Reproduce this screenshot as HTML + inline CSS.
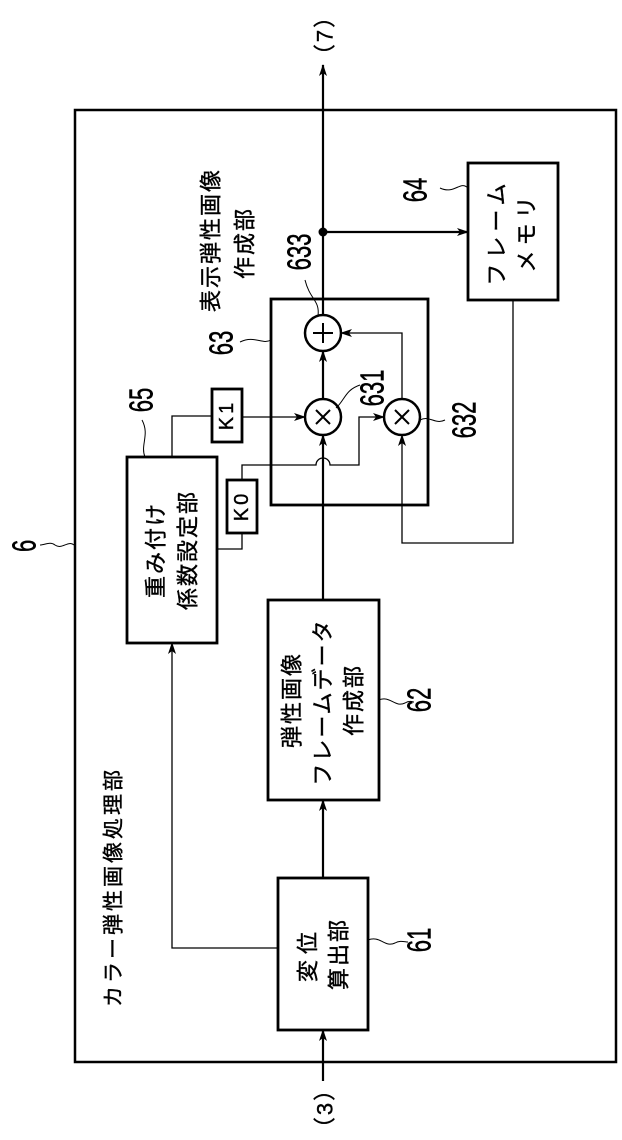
<!DOCTYPE html>
<html><head><meta charset="utf-8"><style>
html,body{margin:0;padding:0;background:#fff}
svg{display:block}
text{font-family:"Liberation Sans","Noto Sans CJK JP",sans-serif;fill:#000}
</style></head><body>
<svg width="622" height="1140" viewBox="0 0 622 1140" xmlns="http://www.w3.org/2000/svg">
<defs>
<marker id="a" markerWidth="12" markerHeight="8" refX="11" refY="4" orient="auto" markerUnits="userSpaceOnUse">
<path d="M0,0 L12,4 L0,8 L3,4 Z" fill="#000"/></marker>
</defs>
<g fill="none" stroke="#000">
<rect x="75" y="110" width="541" height="952" stroke-width="2.5"/>
<rect x="278" y="878" width="90" height="152" stroke-width="2.8"/>
<rect x="268" y="600" width="111" height="200" stroke-width="2.8"/>
<rect x="127" y="457" width="90" height="186" stroke-width="2.8"/>
<rect x="271" y="299" width="157" height="206" stroke-width="2.8"/>
<rect x="468" y="163" width="90" height="137" stroke-width="2.8"/>
<rect x="212" y="389" width="30" height="53" stroke-width="2.8"/>
<rect x="227" y="480" width="30" height="53" stroke-width="2.8"/>
<circle cx="323" cy="333" r="18" stroke-width="2.5"/>
<circle cx="323" cy="417" r="18" stroke-width="2.5"/>
<circle cx="402" cy="417" r="18" stroke-width="2.5"/>
<line x1="323" y1="1081" x2="323" y2="1030" stroke-width="2.2" marker-end="url(#a)"/>
<line x1="323" y1="878" x2="323" y2="800" stroke-width="2.2" marker-end="url(#a)"/>
<line x1="323" y1="600" x2="323" y2="435" stroke-width="2.2" marker-end="url(#a)"/>
<line x1="323" y1="399" x2="323" y2="351" stroke-width="2.2" marker-end="url(#a)"/>
<line x1="323" y1="315" x2="323" y2="65" stroke-width="2.2" marker-end="url(#a)"/>
<line x1="323" y1="232" x2="468" y2="232" stroke-width="2.2" marker-end="url(#a)"/>
<polyline points="278,948 172,948 172,643" stroke-width="1.3" marker-end="url(#a)"/>
<polyline points="172,457 172,416 212,416" stroke-width="1.3"/>
<line x1="242" y1="417" x2="305" y2="417" stroke-width="1.3" marker-end="url(#a)"/>
<polyline points="217,549 242,549 242,533" stroke-width="1.3"/>
<path d="M242,480 L242,465 L316,465 A7,7 0 0 1 330,465 L359,465 L359,417 L384,417" stroke-width="1.3" marker-end="url(#a)"/>
<path d="M513,300 L513,543 L402,543 L402,435" stroke-width="1.3" marker-end="url(#a)"/>
<path d="M402,399 L402,333 L341,333" stroke-width="1.3" marker-end="url(#a)"/>
<line x1="323" y1="323" x2="323" y2="343" stroke-width="2"/>
<line x1="313" y1="333" x2="333" y2="333" stroke-width="2"/>
<path d="M316,410 L330,424 M330,410 L316,424" stroke-width="2"/>
<path d="M395,410 L409,424 M409,410 L395,424" stroke-width="2"/>
<path d="M74,545 C68,540 62,550 55,545 C50,541 45,545 40,545" stroke-width="1"/>
<path d="M368,940 C380,935 385,948 395,943 C400,940 405,942 408,942" stroke-width="1"/>
<path d="M379,700 C390,695 395,708 405,703 C410,700 412,702 414,702" stroke-width="1"/>
<path d="M145,457 C140,445 150,435 142,420" stroke-width="1"/>
<path d="M271,340 C262,345 255,335 240,342" stroke-width="1"/>
<path d="M318,316 C320,300 310,300 305,280" stroke-width="1"/>
<path d="M336,408 C345,400 345,390 360,385" stroke-width="1"/>
<path d="M420,420 C430,415 435,425 445,420" stroke-width="1"/>
<path d="M468,188 C460,180 455,195 440,188" stroke-width="1"/>
</g>
<circle cx="323" cy="232" r="4.5" fill="#000"/>
<g font-size="22" letter-spacing="2" text-anchor="middle" dominant-baseline="central" stroke="#000" stroke-width="0.4">
<text transform="translate(325,35) rotate(-90)" font-size="22">（7）</text>
<text transform="translate(325,1108) rotate(-90)" font-size="22">（3）</text>
<text transform="translate(25,545) rotate(-90) scale(0.85,1.3)" font-size="26">6</text>
<text transform="translate(114,887) rotate(-90)" font-size="21" letter-spacing="3">カラー弾性画像処理部</text>
<text transform="translate(308,954) rotate(-90)" letter-spacing="6">変位</text>
<text transform="translate(339,954) rotate(-90)">算出部</text>
<text transform="translate(420,940) rotate(-90) scale(0.85,1.3)" font-size="26" letter-spacing="0">61</text>
<text transform="translate(292,700) rotate(-90)">弾性画像</text>
<text transform="translate(323,702) rotate(-90)">フレームデータ</text>
<text transform="translate(354,700) rotate(-90)">作成部</text>
<text transform="translate(420,700) rotate(-90) scale(0.85,1.3)" font-size="26" letter-spacing="0">62</text>
<text transform="translate(142,400) rotate(-90) scale(0.85,1.3)" font-size="26" letter-spacing="0">65</text>
<text transform="translate(156,550) rotate(-90)">重み付け</text>
<text transform="translate(188,550) rotate(-90)">係数設定部</text>
<text transform="translate(227,415) rotate(-90)" font-size="20" letter-spacing="3">K1</text>
<text transform="translate(242,506) rotate(-90)" font-size="20" letter-spacing="3">K0</text>
<text transform="translate(222,343) rotate(-90) scale(0.85,1.3)" font-size="26" letter-spacing="0">63</text>
<text transform="translate(211,240) rotate(-90)" font-size="22">表示弾性画像</text>
<text transform="translate(245,243) rotate(-90)" font-size="22">作成部</text>
<text transform="translate(300,252) rotate(-90) scale(0.85,1.3)" font-size="26" letter-spacing="0">633</text>
<text transform="translate(373,388) rotate(-90) scale(0.85,1.3)" font-size="26" letter-spacing="0">631</text>
<text transform="translate(465,420) rotate(-90) scale(0.85,1.3)" font-size="26" letter-spacing="0">632</text>
<text transform="translate(416,190) rotate(-90) scale(0.85,1.3)" font-size="26" letter-spacing="0">64</text>
<text transform="translate(497,232) rotate(-90)" letter-spacing="5">フレーム</text>
<text transform="translate(527,232) rotate(-90)" letter-spacing="5">メモリ</text>
</g>
</svg>
</body></html>
